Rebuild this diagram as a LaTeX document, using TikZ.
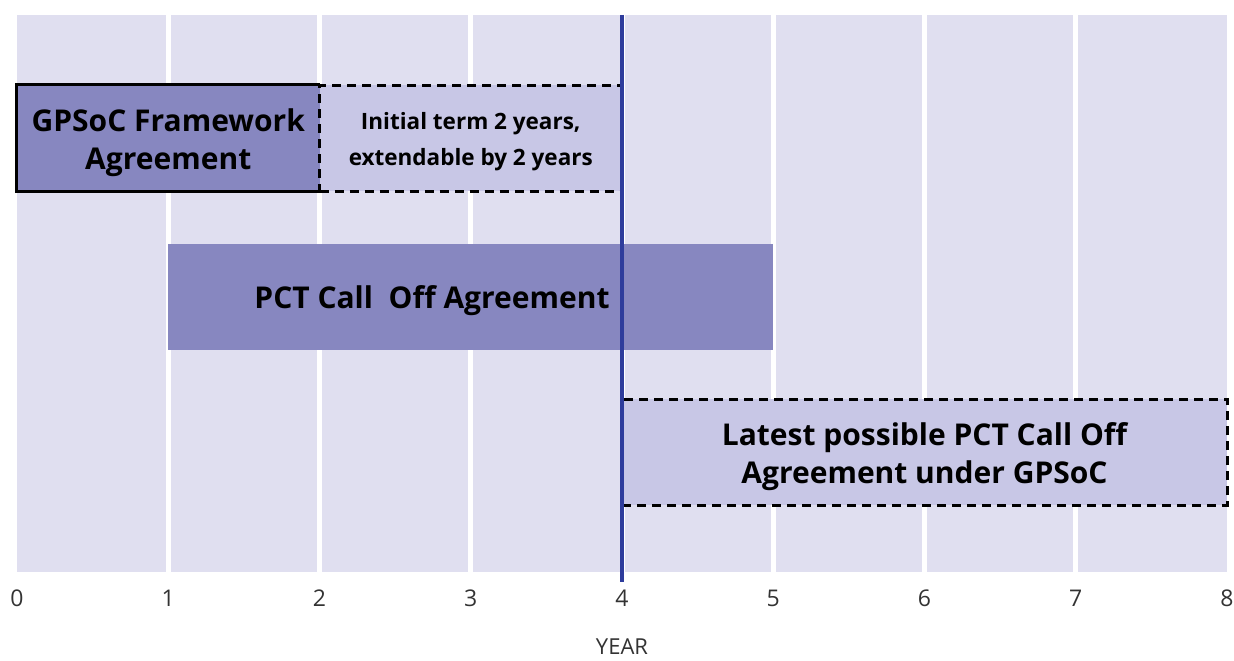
\documentclass[tikz,border=0pt]{standalone}
\usepackage{fontspec}
\setmainfont{Open Sans}
\usepackage{xcolor}
\usepackage{tikz}
\usetikzlibrary{positioning, calc}

\definecolor{colbg}{HTML}{E0DFF0}
\definecolor{boxdark}{HTML}{8787C0}
\definecolor{boxlight}{HTML}{C8C7E6}
\definecolor{nowline}{HTML}{2E3C9C}
\definecolor{axistext}{HTML}{333333}

\begin{document}
\begin{tikzpicture}[x=1pt, y=-1pt,
    darkbox/.style={rectangle, fill=boxdark, minimum height=106pt, inner sep=0pt},
    optionbox/.style={rectangle, draw=black, fill=boxlight, line width=3pt, dash pattern=on 9pt off 6pt, minimum height=106pt, inner sep=0pt},
    bigtext/.style={align=center, font=\bfseries\fontsize{30}{38}\selectfont},
    smalltext/.style={align=center, font=\bfseries\fontsize{22.5}{36}\selectfont},
    yearLabel/.style={font=\fontsize{23}{26}\selectfont, text=axistext, inner sep=0pt}]

  \useasboundingbox (0,0) rectangle (1234,661);

  % year columns
  \fill[colbg] (17,15) rectangle (1227,572);
  \foreach \yr in {1,...,7}
    \draw[white, line width=5pt] ({17+151.25*\yr},15) -- ({17+151.25*\yr},572);

  \node[darkbox, minimum width=302.5pt] (framework) at (168.25,138) {};
  \node[optionbox, minimum width=302.5pt] (extension) at (470.75,138) {};
  \draw[line width=3pt] (framework.north east) -| (framework.south west) -- (framework.south east);
  \node[bigtext] (frameworkText) at ([yshift=-5pt]framework.center) {GPSoC Framework\\Agreement};
  \node[smalltext] (extensionText) at ([yshift=-4pt]extension.center) {Initial term 2 years,\\extendable by 2 years};

  \node[darkbox, minimum width=605pt] (calloff) at (470.75,297) {};
  \node[bigtext] (calloffText) at (432,301) {PCT Call\ \ Off Agreement};

  \node[optionbox, minimum width=605pt] (latest) at (924.5,452) {};
  \node[bigtext] (latestText) at ([yshift=-5pt]latest.center) {Latest possible PCT Call Off\\Agreement under GPSoC};

  \draw[nowline, line width=4pt] (622,15) -- (622,582);

  \foreach \yr in {0,...,8}
    \node[yearLabel] (year\yr) at ({17+151.25*\yr},598) {\yr};
  \node[yearLabel, font=\fontsize{22}{24}\selectfont, below=32pt of year4] (axisTitle) {YEAR};

\end{tikzpicture}
\end{document}
